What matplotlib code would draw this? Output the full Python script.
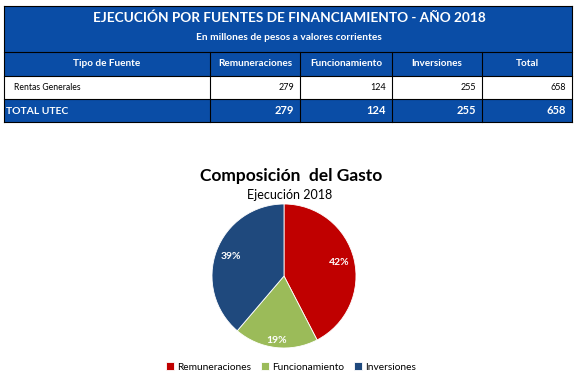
import numpy as np
import matplotlib.pyplot as plt
from matplotlib.patches import Rectangle

plt.rcParams['font.family'] = ['Lato', 'DejaVu Sans']

# datos
titulo = 'EJECUCIÓN POR FUENTES DE FINANCIAMIENTO - AÑO 2018'
subtitulo = 'En millones de pesos a valores corrientes'
columnas = ['Tipo de Fuente', 'Remuneraciones', 'Funcionamiento', 'Inversiones', 'Total']
fila_rentas = ['Rentas Generales', 279, 124, 255, 658]
fila_total = ['TOTAL UTEC', 279, 124, 255, 658]

categorias = ['Remuneraciones', 'Funcionamiento', 'Inversiones']
valores = [279, 124, 255]
colores = ['#C00000', '#9BBB59', '#1F497D']

azul = '#0A4DA6'

fig = plt.figure(figsize=(5.79, 3.80), dpi=100)

# tabla dibujada en coordenadas de pixel
tx = fig.add_axes([0, 0, 1, 1])
tx.set_xlim(0, 579)
tx.set_ylim(380, 0)
tx.axis('off')

x_cols = [4, 210, 300, 392, 482, 572]
y_rows = [6, 52, 76, 99, 122]

tx.add_patch(Rectangle((x_cols[0], y_rows[0]), x_cols[-1] - x_cols[0], y_rows[2] - y_rows[0],
                       facecolor=azul, edgecolor='none'))
tx.add_patch(Rectangle((x_cols[0], y_rows[3]), x_cols[-1] - x_cols[0], y_rows[4] - y_rows[3],
                       facecolor=azul, edgecolor='none'))

tx.text(289, 18, titulo, color='white', fontsize=9.8, fontweight='bold', ha='center', va='center')
tx.text(289, 38, subtitulo, color='white', fontsize=7.3, fontweight='bold', ha='center', va='center')

# bordes
tx.plot([x_cols[0], x_cols[-1]], [y_rows[0], y_rows[0]], color='black', lw=0.8)
for y in y_rows[1:]:
    tx.plot([x_cols[0], x_cols[-1]], [y, y], color='black', lw=0.8)
for x in [x_cols[0], x_cols[-1]]:
    tx.plot([x, x], [y_rows[0], y_rows[-1]], color='black', lw=0.8)
for x in x_cols[1:-1]:
    tx.plot([x, x], [y_rows[1], y_rows[-1]], color='black', lw=0.8)

centros = [(x_cols[i] + x_cols[i + 1]) / 2 for i in range(5)]
for i, c in enumerate(columnas):
    tx.text(centros[i], 64, c, color='white', fontsize=7.2, fontweight='bold', ha='center', va='center')

tx.text(14, 88, fila_rentas[0], color='black', fontsize=6.2, ha='left', va='center')
tx.text(6, 111, fila_total[0], color='white', fontsize=7.5, fontweight='bold', ha='left', va='center')
for i in range(1, 5):
    tx.text(x_cols[i + 1] - 6, 88, str(fila_rentas[i]), color='black', fontsize=6.5, ha='right', va='center')
    tx.text(x_cols[i + 1] - 6, 111, str(fila_total[i]), color='white', fontsize=8,
            fontweight='bold', ha='right', va='center')

# grafico de torta
cx, cy, r = 284, 276, 72
ax = fig.add_axes([(cx - r) / 579, (380 - cy - r) / 380, 2 * r / 579, 2 * r / 380])
wedges, _ = ax.pie(valores, colors=colores, startangle=90, counterclock=False,
                   wedgeprops=dict(edgecolor='white', linewidth=0.6))
ax.set_xlim(-1, 1)
ax.set_ylim(-1, 1)
ax.set_aspect('equal')

dist = [0.79, 0.9, 0.79]
total = sum(valores)
for w, v, d in zip(wedges, valores, dist):
    ang = np.deg2rad((w.theta1 + w.theta2) / 2)
    ax.text(d * np.cos(ang), d * np.sin(ang), '%d%%' % round(100 * v / total),
            color='white', fontsize=7.5, fontweight='bold', ha='center', va='center')

fig.text(291 / 579, 1 - 176 / 380, 'Composición  del Gasto', fontsize=12.5, fontweight='bold',
         ha='center', va='center')
fig.text(290 / 579, 1 - 195 / 380, 'Ejecución 2018', fontsize=9, ha='center', va='center')

fig.legend(wedges, categorias, loc='center', bbox_to_anchor=(291 / 579, 1 - 367 / 380), ncol=3,
           frameon=False, fontsize=7.3, handlelength=0.8, handleheight=0.8, handletextpad=0.3,
           columnspacing=1.0)

fig.savefig('out.png', dpi=100)
